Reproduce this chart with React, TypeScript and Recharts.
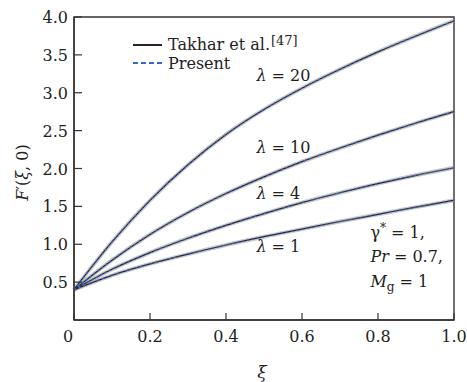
import React from 'react';
import { LineChart, Line, XAxis, YAxis, ReferenceArea, ReferenceDot, Legend } from 'recharts';

// wall velocity gradient F'(xi, 0) against xi, one curve per lambda
const xi = [0, 0.1, 0.2, 0.3, 0.4, 0.5, 0.6, 0.7, 0.8, 0.9, 1.0];
const lambda1 = [0.4, 0.59, 0.74, 0.87, 0.99, 1.1, 1.2, 1.3, 1.395, 1.49, 1.58];
const lambda4 = [0.4, 0.67, 0.89, 1.08, 1.25, 1.405, 1.55, 1.68, 1.8, 1.91, 2.01];
const lambda10 = [0.4, 0.79, 1.13, 1.42, 1.67, 1.89, 2.09, 2.27, 2.44, 2.6, 2.75];
const lambda20 = [0.4, 1.03, 1.58, 2.05, 2.45, 2.78, 3.06, 3.31, 3.54, 3.75, 3.95];

const xTicks = [0, 0.2, 0.4, 0.6, 0.8, 1.0];
const yTicks = [0.5, 1.0, 1.5, 2.0, 2.5, 3.0, 3.5, 4.0];

const curves = [
  { key: 'l1', label: '1', labelAt: [0.48, 0.98] },
  { key: 'l4', label: '4', labelAt: [0.48, 1.68] },
  { key: 'l10', label: '10', labelAt: [0.48, 2.28] },
  { key: 'l20', label: '20', labelAt: [0.48, 3.23] },
];

const data = xi.map((x, i) => ({
  xi: x,
  l1: lambda1[i],
  l4: lambda4[i],
  l10: lambda10[i],
  l20: lambda20[i],
}));

const FONT = '"DejaVu Serif", serif';
const INK = '#333';
const REF = '#2b2220';
const BLUE = '#3566d4';

const XTick = (props: any) => {
  const { x, y, payload } = props;
  const v = payload.value as number;
  return (
    <g>
      <line x1={x} x2={x} y1={y} y2={y - 7} stroke={INK} strokeWidth={1.2} />
      <text x={v === 0 ? x - 6 : x} y={y + 22} textAnchor="middle" fontFamily={FONT} fontSize={16} fill="#222">
        {v === 0 ? '0' : v.toFixed(1)}
      </text>
    </g>
  );
};

const YTick = (props: any) => {
  const { x, y, payload } = props;
  const v = payload.value as number;
  return (
    <g>
      <line x1={x} x2={x + 8} y1={y} y2={y} stroke={INK} strokeWidth={1.2} />
      <text x={x - 6} y={y + 6} textAnchor="end" fontFamily={FONT} fontSize={16} fill="#222">
        {v.toFixed(1)}
      </text>
    </g>
  );
};

const lambdaLabel = (value: string) => (props: any) => {
  const { viewBox } = props;
  const x = viewBox.x + viewBox.width / 2;
  const y = viewBox.y + viewBox.height / 2;
  return (
    <text x={x} y={y + 6} fontFamily={FONT} fontSize={16} fill="#222">
      <tspan fontStyle="italic">λ</tspan> = {value}
    </text>
  );
};

const paramsLabel = (props: any) => {
  const { viewBox } = props;
  const x = viewBox.x + viewBox.width / 2;
  const y = viewBox.y + viewBox.height / 2;
  return (
    <text x={x} y={y} fontFamily={FONT} fontSize={16} fill="#222">
      <tspan x={x} dy={0}>γ<tspan dy={-6} fontSize={12}>*</tspan><tspan dy={6}> = 1,</tspan></tspan>
      <tspan x={x} dy={24}><tspan fontStyle="italic">Pr</tspan> = 0.7,</tspan>
      <tspan x={x} dy={25}><tspan fontStyle="italic">M</tspan><tspan dy={4} fontSize={12}>g</tspan><tspan dy={-4}> = 1</tspan></tspan>
    </text>
  );
};

const yLabel = (props: any) => {
  const { viewBox } = props;
  const cx = viewBox.x + 8;
  const cy = viewBox.y + viewBox.height / 2 + 4;
  return (
    <text x={cx} y={cy} transform={`rotate(-90 ${cx} ${cy})`} textAnchor="middle" dominantBaseline="central" fontFamily={FONT} fontSize={16} fill="#222">
      <tspan fontStyle="italic">F</tspan>′(<tspan fontStyle="italic">ξ</tspan>, 0)
    </text>
  );
};

const xLabel = (props: any) => {
  const { viewBox } = props;
  return (
    <text x={viewBox.x + viewBox.width / 2 - 2} y={viewBox.y + 58} textAnchor="middle" fontFamily={FONT} fontSize={17} fontStyle="italic" fill="#222">
      ξ
    </text>
  );
};

const LegendBox = () => (
  <div style={{ fontFamily: FONT, fontSize: 16, color: '#222', lineHeight: '17px' }}>
    <div style={{ display: 'flex', alignItems: 'center', height: 18 }}>
      <svg width={32} height={10}>
        <line x1={1} x2={30} y1={5} y2={5} stroke={REF} strokeWidth={2} />
      </svg>
      <span style={{ marginLeft: 4, whiteSpace: 'nowrap' }}>
        Takhar et al.
        <span style={{ fontSize: 13, position: 'relative', top: -5, marginLeft: 1 }}>[47]</span>
      </span>
    </div>
    <div style={{ display: 'flex', alignItems: 'center', height: 18 }}>
      <svg width={32} height={10}>
        <line x1={1} x2={30} y1={5} y2={5} stroke={BLUE} strokeWidth={1.8} strokeDasharray="5 3" />
      </svg>
      <span style={{ marginLeft: 4 }}>Present</span>
    </div>
  </div>
);

export default function App() {
  return (
    <div style={{ position: 'absolute', left: 0, top: 0, width: 467, height: 382, background: '#fff' }}>
      <LineChart width={467} height={382} data={data} margin={{ top: 17, right: 13, bottom: 32, left: 14 }}>
        <XAxis
          dataKey="xi"
          type="number"
          domain={[0, 1]}
          ticks={xTicks}
          tickSize={0}
          tickMargin={0}
          height={30}
          axisLine={{ stroke: INK, strokeWidth: 1.4 }}
          tick={<XTick />}
          label={{ content: xLabel }}
        />
        <YAxis
          type="number"
          domain={[0, 4]}
          ticks={yTicks}
          tickSize={0}
          tickMargin={0}
          width={60}
          axisLine={{ stroke: INK, strokeWidth: 1.4 }}
          tick={<YTick />}
          label={{ content: yLabel }}
        />
        <ReferenceArea x1={0} x2={1} y1={0} y2={4} fill="none" stroke={INK} strokeWidth={1.4} />
        {curves.map((c) => (
          <Line key={`${c.key}-halo`} dataKey={c.key} type="monotone" stroke="#9a9a9a" strokeOpacity={0.55} strokeWidth={4} dot={false} isAnimationActive={false} legendType="none" />
        ))}
        {curves.map((c) => (
          <Line key={`${c.key}-ref`} dataKey={c.key} type="monotone" stroke={REF} strokeWidth={1.2} dot={false} isAnimationActive={false} legendType="none" />
        ))}
        {curves.map((c) => (
          <Line key={`${c.key}-present`} dataKey={c.key} type="monotone" stroke={BLUE} strokeWidth={1.5} strokeDasharray="2 3" dot={false} isAnimationActive={false} legendType="none" />
        ))}
        {curves.map((c) => (
          <ReferenceDot key={`${c.key}-lbl`} x={c.labelAt[0]} y={c.labelAt[1]} r={0} fill="none" stroke="none" label={{ content: lambdaLabel(c.label) }} />
        ))}
        <ReferenceDot x={0.78} y={1.08} r={0} fill="none" stroke="none" label={{ content: paramsLabel }} />
        <Legend
          content={<LegendBox />}
          layout="vertical"
          align="center"
          verticalAlign="middle"
          wrapperStyle={{ left: 132, top: 36, width: 'auto' }}
        />
      </LineChart>
    </div>
  );
}
